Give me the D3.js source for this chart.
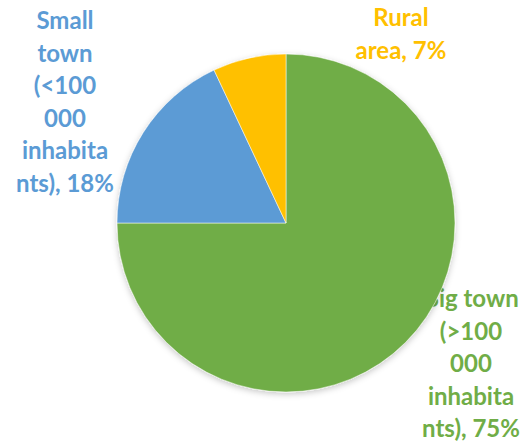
<!DOCTYPE html>
<html><head><meta charset="utf-8">
<script src="https://cdn.jsdelivr.net/npm/d3@7"></script>
<style>body{margin:0;background:#fff}</style>
</head><body>
<svg id="c" width="528" height="447"></svg>
<script>
const categories = ["Big town (>100 000 inhabitants)", "Small town (<100 000 inhabitants)", "Rural area"];
const values = [75, 18, 7];
const colors = ["#70AD47", "#5B9BD5", "#FFC000"];
const labelLines = [
  ["Big town", "(>100", "000", "inhabita", "nts), 75%"],
  ["Small", "town", "(<100", "000", "inhabita", "nts), 18%"],
  ["Rural", "area, 7%"]
];
const labelPos = [[471, 307], [65, 29], [401, 26]];

const svg = d3.select("#c");
const cx = 286, cy = 223, r = 169;
const defs = svg.append("defs");
const f = defs.append("filter").attr("id","sh").attr("x","-10%").attr("y","-10%").attr("width","120%").attr("height","125%");
f.append("feDropShadow").attr("dx",0).attr("dy",2).attr("stdDeviation",3).attr("flood-color","#000").attr("flood-opacity",0.22);

// labels (drawn beneath the pie)
const lg = svg.append("g");
labelLines.forEach((lines, i) => {
  const t = lg.append("text")
    .attr("text-anchor","middle")
    .attr("font-family","Lato, 'Open Sans', sans-serif")
    .attr("font-weight","bold")
    .attr("font-size", 24)
    .attr("fill", colors[i]);
  lines.forEach((s, j) => {
    t.append("tspan").attr("x", labelPos[i][0]).attr("y", labelPos[i][1] + j*32.5).text(s);
  });
});

const pie = d3.pie().sort(null).value(d => d)(values);
const arc = d3.arc().innerRadius(0).outerRadius(r);
const g = svg.append("g").attr("transform", `translate(${cx},${cy})`).attr("filter","url(#sh)");
g.selectAll("path").data(pie).join("path")
  .attr("d", arc)
  .attr("fill", (d,i) => colors[i])
  .attr("stroke", "#fff").attr("stroke-width", 0.5);
</script>
</body></html>
